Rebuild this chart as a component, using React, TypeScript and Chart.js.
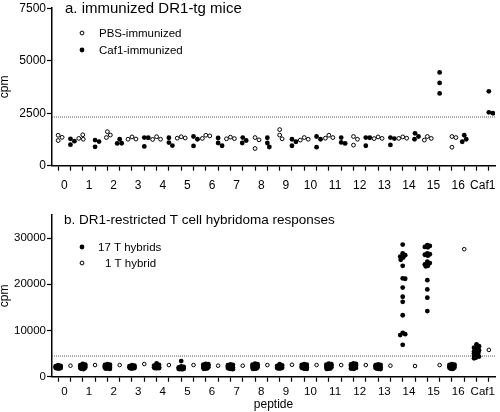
import React, { useEffect, useRef } from "react";
import { Chart, registerables } from "chart.js";

Chart.register(...registerables);

const FONT = '"Liberation Sans", Arial, Helvetica, sans-serif';

// ---------- categories ----------
const PEPTIDES = ["0", "1", "2", "3", "4", "5", "6", "7", "8", "9", "10", "11", "12", "13", "14", "15", "16", "Caf1"];

// ---------- panel a: immunized DR1-tg mice (cpm) ----------
const PBS_IMMUNIZED: number[][] = [
  [1450, 1200, 1350],
  [1470, 1260, 1300],
  [1620, 1460, 1340],
  [1370, 1270, 1260],
  [1380, 1260, 1250],
  [1380, 1320, 1310],
  [1450, 1420, 1300],
  [1360, 1290, 1280],
  [1340, 1230, 820],
  [1720, 1460, 1280],
  [1340, 1260, 1220],
  [1450, 1340, 1310],
  [1390, 1260, 980],
  [1370, 1300, 1290],
  [1370, 1310, 1300],
  [1390, 1300, 1220],
  [1390, 1340, 880],
  [],
];
const CAF1_IMMUNIZED: number[][] = [
  [1280, 1170, 1000],
  [1220, 1150, 900],
  [1260, 1070, 1060],
  [1340, 1330, 920],
  [1330, 1100, 960],
  [1390, 1260, 940],
  [1320, 1080, 950],
  [1340, 1200, 1080],
  [1330, 1080, 890],
  [1260, 1140, 950],
  [1390, 1260, 880],
  [1340, 1110, 1060],
  [1340, 1330, 950],
  [1340, 1290, 990],
  [1540, 1390, 1260],
  [4440, 3940, 3440],
  [1450, 1260, 1140],
  [3540, 2540, 2500],
];
const THRESHOLD_A = 2320;
const Y_TICKS_A = [0, 2500, 5000, 7500];
const Y_MAX_A = 7500;

// ---------- panel b: DR1-restricted T cell hybridoma responses (cpm) ----------
const HYBRIDS_17: number[][] = [
  [2480, 2350, 2270, 2190, 2130, 2080, 2030, 1990, 1950, 1930, 1900, 1880, 1870, 1850, 1840, 1830, 1820],
  [2750, 2610, 2520, 2460, 2390, 2340, 2270, 2210, 2150, 2090, 2040, 1980, 1910, 1850, 1780, 1710, 1650],
  [2700, 2630, 2540, 2490, 2410, 2360, 2290, 2250, 2180, 2110, 2070, 1990, 1950, 1870, 1810, 1740, 1690],
  [2500, 2370, 2290, 2200, 2150, 2090, 2050, 2000, 1970, 1940, 1920, 1890, 1870, 1860, 1840, 1830, 1810],
  [2890, 2570, 2410, 2300, 2230, 2160, 2110, 2060, 2020, 1990, 1960, 1940, 1910, 1890, 1880, 1860, 1850],
  [3390, 2210, 2100, 2030, 1960, 1910, 1860, 1830, 1790, 1770, 1740, 1720, 1700, 1690, 1670, 1660, 1650],
  [2780, 2710, 2620, 2530, 2470, 2400, 2340, 2260, 2210, 2140, 2070, 2010, 1960, 1880, 1830, 1760, 1700],
  [2650, 2570, 2490, 2440, 2370, 2310, 2230, 2180, 2100, 2050, 1980, 1920, 1870, 1800, 1750, 1680, 1620],
  [2800, 2690, 2600, 2530, 2440, 2390, 2310, 2260, 2190, 2130, 2050, 2000, 1920, 1870, 1790, 1740, 1680],
  [2700, 2450, 2360, 2270, 2210, 2140, 2090, 2050, 2000, 1970, 1930, 1910, 1880, 1860, 1850, 1830, 1820],
  [2700, 2610, 2560, 2490, 2440, 2360, 2310, 2230, 2180, 2120, 2040, 1990, 1920, 1870, 1810, 1740, 1680],
  [2850, 2710, 2630, 2540, 2460, 2410, 2320, 2270, 2200, 2140, 2060, 2010, 1930, 1880, 1800, 1750, 1690],
  [2900, 2770, 2650, 2570, 2470, 2420, 2330, 2290, 2210, 2150, 2070, 2020, 1940, 1890, 1810, 1760, 1700],
  [2640, 2580, 2490, 2450, 2370, 2330, 2240, 2200, 2120, 2070, 1990, 1950, 1870, 1830, 1750, 1710, 1640],
  [28600, 26700, 26300, 26000, 25800, 25300, 24000, 21300, 21200, 19300, 17300, 16200, 13300, 9500, 9200, 9000, 6900],
  [28500, 28300, 28100, 28000, 26700, 26500, 26400, 26200, 24900, 24600, 24300, 24000, 23900, 20900, 18900, 17100, 14200],
  [2700, 2630, 2540, 2490, 2410, 2370, 2280, 2240, 2160, 2120, 2040, 2000, 1920, 1880, 1800, 1760, 1690],
  [7000, 6600, 6300, 6050, 5850, 5750, 5600, 5480, 5350, 5200, 5050, 4900, 4750, 4550, 4350, 4150, 3980],
];
const HYBRID_1: number[] = [
  2380, 2520, 2520, 2740, 2520, 2520, 2380, 2380, 2520, 2590, 2520, 2520, 2520, 2380, 2310, 2520, 27600, 5800,
];
const THRESHOLD_B = 4470;
const Y_TICKS_B = [0, 10000, 20000, 30000];
const Y_MAX_B = 35000;

// ---------- layout (pixels) ----------
const CANVAS_W = 500;
const A_H = 200;
const B_H = 212;
const PLOT_LEFT = 52;
const PLOT_RIGHT_PAD = 1;
const SLOT_COUNT = PEPTIDES.length * 2;
const SLOT_PX = (CANVAS_W - PLOT_RIGHT_PAD - PLOT_LEFT) / SLOT_COUNT;
const SLOTS = Array.from({ length: SLOT_COUNT }, (_, i) => i);
const A_TOP = 5;
const A_BOTTOM = 165.7;
const B_TOP = 15;
const B_BOTTOM = 176.7;

type Pt = { x: number; y: number };

// spread points of one group sideways so that they do not hide each other
function swarm(values: number[], slot: number, pxPerVal: number, minDist: number, limit: number): Pt[] {
  const placed: { dx: number; py: number }[] = [];
  const out: Pt[] = [];
  const cands: number[] = [0];
  for (let s = 0.5; s <= limit + 1e-6; s += 0.5) {
    cands.push(s, -s);
  }
  values.forEach((v) => {
    const py = v * pxPerVal;
    let best = 0;
    let bestD = -1;
    for (const c of cands) {
      let d = Infinity;
      for (const p of placed) d = Math.min(d, Math.hypot(p.dx - c, p.py - py));
      if (d >= minDist) {
        best = c;
        bestD = d;
        break;
      }
      if (d > bestD + 0.05) {
        bestD = d;
        best = c;
      }
    }
    placed.push({ dx: best, py });
    out.push({ x: slot + best / SLOT_PX, y: v });
  });
  return out;
}

function xScale(labelPad: number, fontSize: number, axisHeight: number, title?: string) {
  return {
    type: "linear",
    min: -0.5,
    max: SLOT_COUNT - 0.5,
    afterBuildTicks: (axis: any) => {
      axis.ticks = SLOTS.map((v) => ({ value: v }));
    },
    afterFit: (axis: any) => {
      axis.height = axisHeight;
    },
    grid: { drawOnChartArea: false, drawTicks: true, tickLength: 5, tickColor: "#000", tickWidth: 1.2 },
    border: { display: true, color: "#000", width: 1.5 },
    ticks: {
      autoSkip: false,
      maxRotation: 0,
      minRotation: 0,
      labelOffset: SLOT_PX / 2,
      padding: labelPad,
      color: "#000",
      font: { size: fontSize, family: FONT },
      callback: (v: any) => {
        const n = Number(v);
        return n % 2 === 0 ? PEPTIDES[n / 2] : "";
      },
    },
    title: title
      ? { display: true, text: title, color: "#000", font: { size: 12, family: FONT, lineHeight: 1.2 }, padding: 0 }
      : { display: false },
  };
}

function yScale(max: number, tickValues: number[], fontSize: number) {
  return {
    type: "linear",
    min: 0,
    max,
    afterBuildTicks: (axis: any) => {
      axis.ticks = tickValues.map((v) => ({ value: v }));
    },
    afterFit: (axis: any) => {
      axis.width = PLOT_LEFT;
    },
    grid: { drawOnChartArea: false, drawTicks: true, tickLength: 5, tickColor: "#000", tickWidth: 1.2 },
    border: { display: true, color: "#000", width: 1.5 },
    ticks: {
      padding: 1,
      color: "#000",
      font: { size: fontSize, family: FONT },
      callback: (v: any) => String(v),
    },
    title: { display: true, text: "cpm", color: "#000", font: { size: 12, family: FONT, lineHeight: 0.8 }, padding: 0 },
  };
}

type LegendItem = { ds: number; filled: boolean; y: number; textX: number };

function textPlugin(title: string, titleSize: number, titleX: number, titleBase: number, legendSize: number, items: LegendItem[]) {
  return {
    id: "panelText",
    afterDraw(chart: any) {
      const ctx = chart.ctx as CanvasRenderingContext2D;
      ctx.save();
      ctx.fillStyle = "#000";
      ctx.textAlign = "left";
      ctx.textBaseline = "alphabetic";
      ctx.font = `${titleSize}px ${FONT}`;
      ctx.fillText(title, titleX, titleBase);
      ctx.font = `${legendSize}px ${FONT}`;
      ctx.textBaseline = "middle";
      items.forEach((it) => {
        ctx.beginPath();
        ctx.arc(82, it.y, it.filled ? 2.4 : 1.9, 0, Math.PI * 2);
        if (it.filled) {
          ctx.fillStyle = "#000";
          ctx.fill();
        } else {
          ctx.fillStyle = "#fff";
          ctx.fill();
          ctx.lineWidth = 1;
          ctx.strokeStyle = "#000";
          ctx.stroke();
        }
        ctx.fillStyle = "#000";
        ctx.fillText(chart.data.datasets[it.ds].label, it.textX, it.y + 0.5);
      });
      ctx.restore();
    },
  };
}

function buildA(): any {
  const pxPerVal = (A_BOTTOM - A_TOP) / Y_MAX_A;
  const pbs: Pt[] = [];
  const caf: Pt[] = [];
  PEPTIDES.forEach((_, i) => {
    pbs.push(...swarm(PBS_IMMUNIZED[i], 2 * i, pxPerVal, 4.5, 4));
    caf.push(...swarm(CAF1_IMMUNIZED[i], 2 * i + 1, pxPerVal, 4.5, 4));
  });
  return {
    type: "scatter",
    data: {
      datasets: [
        { label: "PBS-immunized", data: pbs, pointRadius: 1.9, pointBorderWidth: 1, pointBackgroundColor: "#fff", pointBorderColor: "#000" },
        { label: "Caf1-immunized", data: caf, pointRadius: 2.4, pointBorderWidth: 0, pointBackgroundColor: "#000", pointBorderColor: "#000" },
        {
          label: "threshold",
          data: [{ x: -0.5, y: THRESHOLD_A }, { x: SLOT_COUNT - 0.5, y: THRESHOLD_A }],
          showLine: true,
          pointRadius: 0,
          borderColor: "#555",
          borderWidth: 1,
          borderDash: [1, 1],
        },
      ],
    },
    options: {
      animation: false,
      responsive: false,
      events: [],
      layout: { padding: { top: A_TOP, right: PLOT_RIGHT_PAD, left: 0, bottom: 0 } },
      plugins: { legend: { display: false }, tooltip: { enabled: false }, title: { display: false } },
      scales: {
        x: xScale(8, 12, A_H - A_BOTTOM),
        y: yScale(Y_MAX_A, Y_TICKS_A, 12),
      },
    },
    plugins: [
      textPlugin("a. immunized DR1-tg mice", 15, 65, 12.5, 11.5, [
        { ds: 0, filled: false, y: 33, textX: 99 },
        { ds: 1, filled: true, y: 50, textX: 99 },
      ]),
    ],
  };
}

function buildB(): any {
  const pxPerVal = (B_BOTTOM - B_TOP) / Y_MAX_B;
  const many: Pt[] = [];
  const one: Pt[] = [];
  PEPTIDES.forEach((_, i) => {
    many.push(...swarm(HYBRIDS_17[i], 2 * i, pxPerVal, 4.5, 2.6));
    one.push({ x: 2 * i + 1, y: HYBRID_1[i] });
  });
  return {
    type: "scatter",
    data: {
      datasets: [
        { label: "17 T hybrids", data: many, pointRadius: 2.4, pointBorderWidth: 0, pointBackgroundColor: "#000", pointBorderColor: "#000" },
        { label: "1 T hybrid", data: one, pointRadius: 1.8, pointBorderWidth: 1, pointBackgroundColor: "#fff", pointBorderColor: "#000" },
        {
          label: "threshold",
          data: [{ x: -0.5, y: THRESHOLD_B }, { x: SLOT_COUNT - 0.5, y: THRESHOLD_B }],
          showLine: true,
          pointRadius: 0,
          borderColor: "#555",
          borderWidth: 1,
          borderDash: [1, 1],
        },
      ],
    },
    options: {
      animation: false,
      responsive: false,
      events: [],
      layout: { padding: { top: B_TOP, right: PLOT_RIGHT_PAD, left: 0, bottom: 0 } },
      plugins: { legend: { display: false }, tooltip: { enabled: false }, title: { display: false } },
      scales: {
        x: xScale(3, 11.5, B_H - B_BOTTOM, "peptide"),
        y: yScale(Y_MAX_B, Y_TICKS_B, 11.5),
      },
    },
    plugins: [
      textPlugin("b. DR1-restricted T cell hybridoma responses", 13.5, 64, 24, 11.5, [
        { ds: 0, filled: true, y: 47, textX: 98 },
        { ds: 1, filled: false, y: 63, textX: 105 },
      ]),
    ],
  };
}

function ChartCanvas({ build, height }: { build: () => any; height: number }) {
  const ref = useRef<HTMLCanvasElement | null>(null);
  useEffect(() => {
    if (!ref.current) return;
    const chart = new Chart(ref.current, build());
    return () => chart.destroy();
  }, [build]);
  return <canvas ref={ref} width={CANVAS_W} height={height} style={{ display: "block", width: CANVAS_W, height }} />;
}

export default function App() {
  return (
    <div style={{ position: "absolute", left: 0, top: 0, width: CANVAS_W, height: A_H + B_H, background: "#fff" }}>
      <ChartCanvas build={buildA} height={A_H} />
      <ChartCanvas build={buildB} height={B_H} />
    </div>
  );
}
